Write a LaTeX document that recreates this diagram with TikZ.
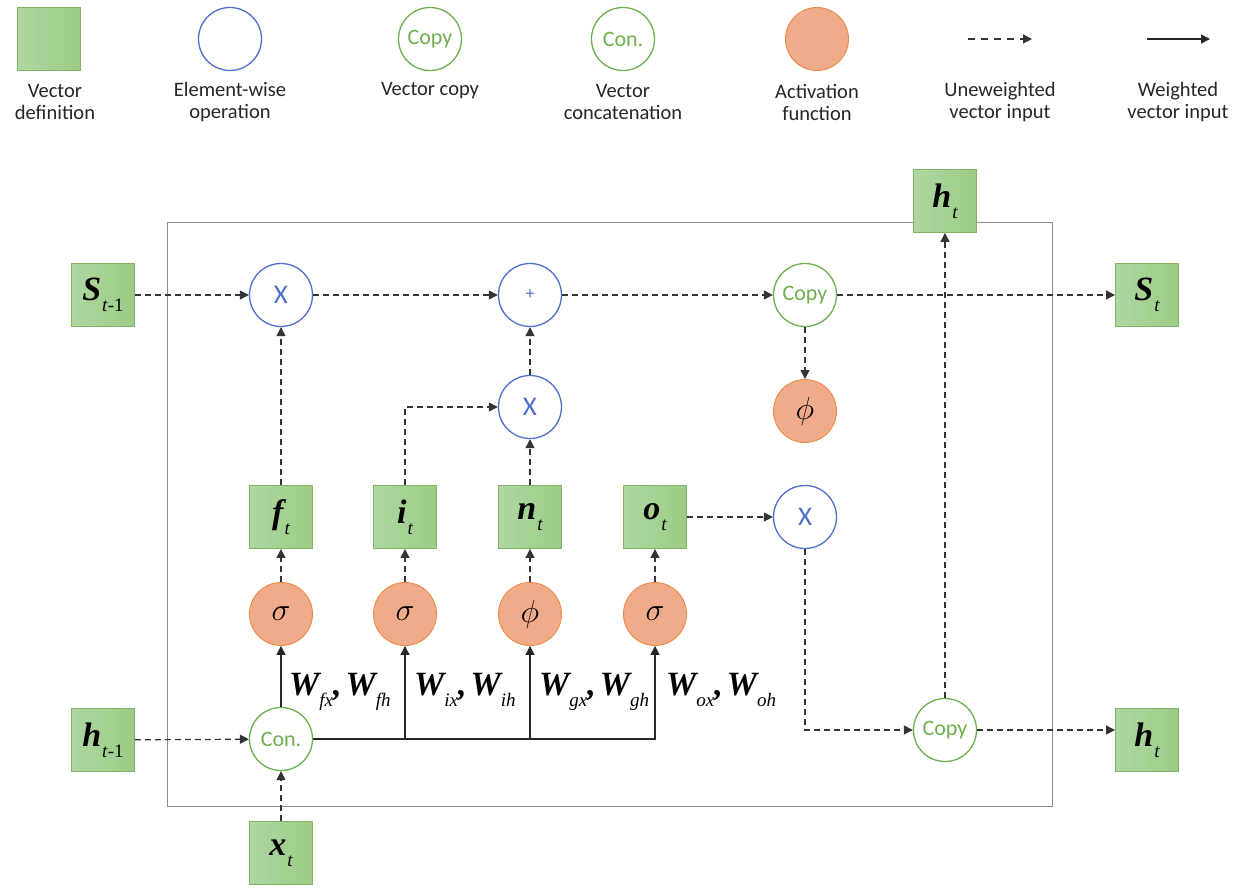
\RequirePackage{fix-cm}
\documentclass[tikz,border=0pt]{standalone}
\usepackage{fontspec}
\setmainfont{Carlito}
\newfontfamily\lserif{Liberation Serif}
\usetikzlibrary{arrows.meta,calc}
\definecolor{sqfillA}{HTML}{AFD7A1}
\definecolor{sqfillB}{HTML}{9BCC85}
\definecolor{sqdraw}{HTML}{82B366}
\definecolor{opblue}{HTML}{4F6FCC}
\definecolor{cpgreen}{HTML}{6DB04E}
\definecolor{actfill}{HTML}{F0AC8A}
\definecolor{actdraw}{HTML}{EB8A45}
\definecolor{boxgray}{HTML}{8C8C8C}
\newcommand{\bigit}[1]{{\lserif\fontsize{34}{34}\selectfont\bfseries\itshape #1}}
\newcommand{\subit}[1]{\raisebox{-11pt}{\lserif\fontsize{19}{19}\selectfont\itshape #1}}
\newcommand{\vlab}[2]{\bigit{#1}\kern1pt\subit{#2}}
\newcommand{\wlab}[2]{\bigit{W}\subit{#1}\bigit{,}\kern4pt\bigit{W}\subit{#2}}
\newcommand{\gr}[1]{{\fontsize{32}{32}\selectfont$#1$}}
\begin{document}
\begin{tikzpicture}[x=1pt,y=-1pt,
  vsq/.style={draw=sqdraw, line width=0.9pt, minimum width=63pt, minimum height=63pt, inner sep=0pt, left color=sqfillA, right color=sqfillB},
  opc/.style={circle, draw=opblue, line width=1.3pt, minimum size=63pt, inner sep=0pt, text=opblue, font=\fontsize{27}{27}\selectfont},
  cpc/.style={circle, draw=cpgreen, line width=1.3pt, minimum size=63pt, inner sep=0pt, text=cpgreen, font=\fontsize{22}{22}\selectfont},
  actc/.style={circle, draw=actdraw, fill=actfill, line width=0.9pt, minimum size=63pt, inner sep=0pt},
  da/.style={draw=black!80, line width=1.2pt, dash pattern=on 6pt off 4pt, -{Triangle[length=9pt,width=9pt]}},
  wa/.style={draw=black!85, line width=1.3pt, -{Triangle[length=9pt,width=9pt]}},
  lgt/.style={font=\fontsize{20.5}{22}\selectfont, align=center, text=black!85, inner sep=0pt}
]
\useasboundingbox (0,0) rectangle (1245,888);
% legend
\node[vsq] (L1) at (49,39) {};
\node[opc] (L2) at (230,39) {};
\node[cpc] (L3) at (430,39) {Copy};
\node[cpc] (L4) at (623,39) {Con.};
\node[actc] (L5) at (817,39) {};
\coordinate (ld1) at (968,39);
\coordinate (ld2) at (1032,39);
\coordinate (lw1) at (1147,39);
\coordinate (lw2) at (1210,39);
\draw[da, dash pattern=on 7pt off 6pt] (ld1) -- (ld2);
\draw[wa] (lw1) -- (lw2);
\node[lgt] (T1) at (55,102) {Vector\\definition};
\node[lgt] (T2) at (230,102) {Element-wise\\operation};
\node[lgt] (T3) at (430,91) {Vector copy};
\node[lgt] (T4) at (623,102) {Vector\\concatenation};
\node[lgt] (T5) at (817,102) {Activation\\function};
\node[lgt] (T6) at (1000,102) {Uneweighted\\vector input};
\node[lgt] (T7) at (1178,102) {Weighted\\vector input};
% main box
\draw[boxgray, line width=1pt] (167,222) rectangle (1052,806);
% nodes
\node[vsq] (S1) at (103,295) {\vlab{S}{t\textup{-1}}};
\node[opc] (X1) at (281,295) {X};
\node[opc, font=\fontsize{18}{18}\selectfont] (Plus) at (530,295) {+};
\node[cpc] (Cp1) at (805,295) {Copy};
\node[vsq] (St) at (1147,295) {\vlab{S}{t}};
\node[vsq] (htT) at (945,201) {\vlab{h}{t}};
\node[opc] (X2) at (530,407) {X};
\node[actc] (Ph1) at (805,411) {\gr{\phi}};
\node[vsq] (ft) at (281,517) {\vlab{f}{t}};
\node[vsq] (it) at (405,517) {\vlab{i}{t}};
\node[vsq] (nt) at (530,517) {\vlab{n}{t}};
\node[vsq] (ot) at (655,517) {\vlab{o}{t}};
\node[opc] (X3) at (805,517) {X};
\node[actc] (a1) at (281,614) {\gr{\sigma}};
\node[actc] (a2) at (405,614) {\gr{\sigma}};
\node[actc] (a3) at (530,614) {\gr{\phi}};
\node[actc] (a4) at (655,614) {\gr{\sigma}};
\node[vsq] (ht1) at (103,740) {\vlab{h}{t\textup{-1}}};
\node[cpc] (Con) at (281,739) {Con.};
\node[cpc] (Cp2) at (945,730) {Copy};
\node[vsq] (htR) at (1147,740) {\vlab{h}{t}};
\node[vsq] (xt) at (281,853) {\vlab{x}{t}};
% weight labels
\node[anchor=base west, inner sep=0pt] (w1) at (289,695) {\wlab{fx}{fh}};
\node[anchor=base west, inner sep=0pt] (w2) at (414,695) {\wlab{ix}{ih}};
\node[anchor=base west, inner sep=0pt] (w3) at (539,695) {\wlab{gx}{gh}};
\node[anchor=base west, inner sep=0pt] (w4) at (666,695) {\wlab{ox}{oh}};
% connectors
\draw[da] (S1) -- (X1);
\draw[da] (X1) -- (Plus);
\draw[da] (Plus) -- (Cp1);
\draw[da] (Cp1) -- (St);
\draw[da] (Cp1) -- (Ph1);
\draw[da] (ft) -- (X1);
\draw[da] (it.north) |- (X2.west);
\draw[da] (nt) -- (X2);
\draw[da] (X2) -- (Plus);
\draw[da] (ot) -- (X3);
\draw[da] (X3.south) |- (Cp2.west);
\draw[da] (Cp2) -- (htT);
\draw[da] (Cp2.east) -- (Cp2 -| htR.west);
\draw[da] (a1) -- (ft);
\draw[da] (a2) -- (it);
\draw[da] (a3) -- (nt);
\draw[da] (a4) -- (ot);
\draw[wa] (Con) -- (a1);
\draw[wa] (Con.east) -- (a4 |- Con) -- (a4.south);
\draw[wa] (a2 |- Con) -- (a2.south);
\draw[wa] (a3 |- Con) -- (a3.south);
\draw[da] (ht1) -- (Con);
\draw[da] (xt) -- (Con);
\end{tikzpicture}
\end{document}
